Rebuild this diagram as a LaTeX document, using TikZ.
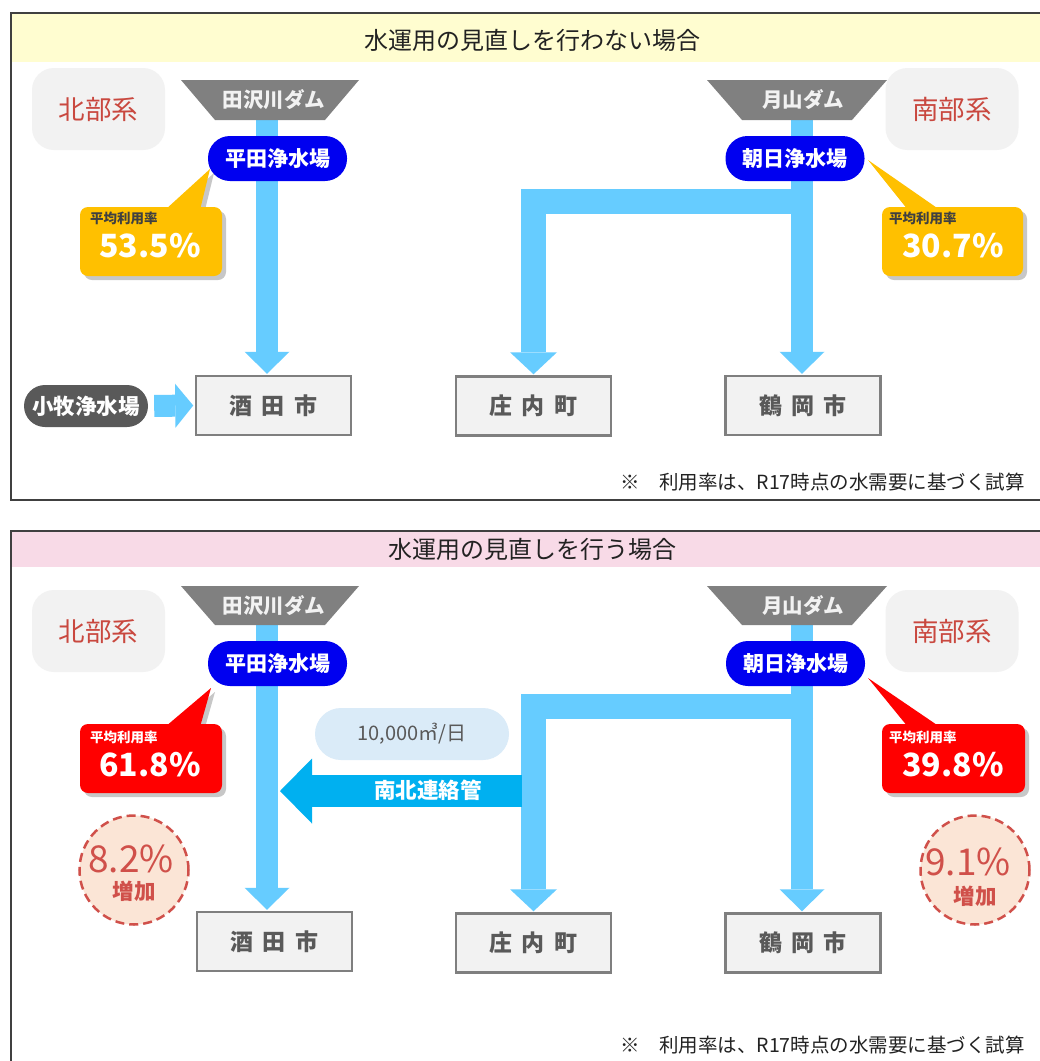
\documentclass[tikz,border=0pt]{standalone}
\usepackage{fontspec}
\setmainfont{Noto Sans CJK JP}
\usetikzlibrary{arrows.meta,calc}
\pgfdeclarelayer{bg}
\pgfsetlayers{bg,main}
\definecolor{pipec}{HTML}{66CCFF}
\definecolor{nsc}{HTML}{00B0F0}
\definecolor{pillc}{HTML}{0000F0}
\definecolor{damc}{HTML}{808080}
\definecolor{yelc}{HTML}{FFC000}
\definecolor{redc}{HTML}{FF0000}
\definecolor{sysfill}{HTML}{F2F2F2}
\definecolor{systext}{HTML}{C9483F}
\definecolor{hdryel}{HTML}{FFFDD0}
\definecolor{hdrpink}{HTML}{F8DAE7}
\definecolor{boxdraw}{HTML}{7F7F7F}
\definecolor{textgray}{HTML}{595959}
\definecolor{avggray}{HTML}{404040}
\definecolor{komac}{HTML}{595959}
\definecolor{circfill}{HTML}{FBE5D6}
\definecolor{circdraw}{HTML}{D0504A}
\definecolor{flowfill}{HTML}{DAEBF8}
\definecolor{framec}{HTML}{404040}
\definecolor{titlec}{HTML}{222222}
\newcommand{\ccsp}{\hspace{0.4em}}
\newcommand{\mycallout}[9]{%
  \fill[black,opacity=0.22,shift={(4,4)},rounded corners=8pt] (#2,#3) rectangle (#4,#5);
  \fill[black,opacity=0.22,shift={(4,4)}] (#6,#3+3) -- (#8,#9) -- (#7,#3+3) -- cycle;
  \fill[#1,rounded corners=8pt] (#2,#3) rectangle (#4,#5);
  \fill[#1] (#6,#3+3) -- (#8,#9) -- (#7,#3+3) -- cycle;
}
\tikzset{
  title/.style={text=titlec, font=\fontsize{24}{26}\selectfont, inner sep=0},
  sysbox/.style={fill=sysfill, rounded corners=22pt, minimum width=133pt, minimum height=82pt, text=systext, font=\fontsize{26.5}{28}\selectfont, inner sep=0},
  pill/.style={fill=pillc, rounded corners=22pt, minimum width=139pt, minimum height=45pt, text=white, font=\bfseries\fontsize{21}{23}\selectfont, inner sep=0},
  damtext/.style={text=white!95!black, font=\bfseries\fontsize{20.5}{22}\selectfont, inner sep=0},
  city/.style={fill=sysfill, draw=boxdraw, line width=2.5pt, minimum width=155pt, minimum height=59pt, text=textgray, font=\bfseries\fontsize{23}{25}\selectfont, inner sep=0},
  koma/.style={fill=komac, rounded corners=21pt, minimum width=124pt, minimum height=42pt, text=white, font=\bfseries\fontsize{21.5}{23}\selectfont, inner sep=0},
  pipe/.style={draw=pipec, line width=22pt},
  pipehead/.style={-{Triangle[width=45pt,length=22pt,line width=0pt]}, shorten >=1pt},
  branch/.style={draw=pipec, line width=25pt, line join=miter, -{Triangle[width=47pt,length=22pt,line width=0pt]}, shorten >=1pt},
  avg/.style={anchor=west, font=\bfseries\fontsize{13.5}{15}\selectfont, inner sep=0},
  val/.style={text=white, font=\bfseries\fontsize{32}{34}\selectfont, inner sep=0},
  flow/.style={fill=flowfill, rounded corners=26pt, minimum width=194pt, minimum height=52pt, text=textgray, font=\fontsize{20}{22}\selectfont, inner sep=0},
  nstext/.style={text=white, font=\bfseries\fontsize{21.5}{23}\selectfont, inner sep=0},
  inc/.style={circle, fill=circfill, draw=circdraw, line width=2.5pt, dash pattern=on 9pt off 5pt, minimum size=109pt, inner sep=0},
  incnum/.style={text=circdraw, font=\fontsize{37}{39}\selectfont, inner sep=0},
  incw/.style={text=circdraw, font=\bfseries\fontsize{21.5}{23}\selectfont, inner sep=0},
  foot/.style={anchor=east, text=titlec, font=\fontsize{19.5}{21}\selectfont, inner sep=0},
}
\begin{document}
\begin{tikzpicture}[x=1pt,y=-1pt]
\useasboundingbox (0,0) rectangle (1040,1061);
\clip (0,0) rectangle (1040,1061);
\begin{pgfonlayer}{bg}
\fill[white] (0,0) rectangle (1040,1061);
\end{pgfonlayer}

% ---------------- top panel ----------------
\fill[hdryel] (11,13) rectangle (1045,62);
\draw[framec, line width=1.5pt] (11,13) rectangle (1045,500);
\node[title] (t1) at (532,40) {水運用の見直しを行わない場合};

\node[sysbox] (n1) at (98.5,109) {北部系};
\node[sysbox] (s1) at (952,109) {南部系};

\fill[damc] (181,80) -- (359,80) -- (325,120) -- (215,120) -- cycle;
\node[damtext] (d1) at (274,100) {田沢川ダム};
\fill[damc] (707,80) -- (887,80) -- (852,120) -- (742,120) -- cycle;
\node[damtext] (g1) at (803,100) {月山ダム};

\node[pill] (h1) at (277.5,158.5) {平田浄水場};
\node[pill] (a1) at (795,158.5) {朝日浄水場};

\node[city] (sk1) at (273.5,405.5) {酒\ccsp 田\ccsp 市};
\node[city] (sh1) at (533.5,406) {庄\ccsp 内\ccsp 町};
\node[city] (tr1) at (803,405.5) {鶴\ccsp 岡\ccsp 市};

\node[koma] (k1) at (86,406) {小牧浄水場};

\mycallout{yelc}{80}{207}{222}{276}{165}{200}{210}{169}
\node[avg, text=avggray] (av1) at (90,218) {平均利用率};
\node[val] (v1) at (150,246) {53.5\%};
\mycallout{yelc}{882}{207}{1023}{276}{908}{940}{868}{160}
\node[avg, text=avggray] (av2) at (889,218) {平均利用率};
\node[val] (v2) at (953,246) {30.7\%};

\node[foot] (f1) at (1025,482) {※\hspace{1em}利用率は、R17時点の水需要に基づく試算};

\begin{pgfonlayer}{bg}
\coordinate (lp1) at (267,120);
\coordinate (rp1) at (802,120);
\coordinate (br1) at (813,201);
\draw[pipe,pipehead] (lp1) -- (lp1 |- sk1.north);
\draw[pipe,pipehead] (rp1) -- (rp1 |- tr1.north);
\draw[branch] (br1) -| (sh1.north);
\end{pgfonlayer}
\draw[pipe, -{Triangle[width=44pt,length=18pt,line width=0pt]}, shorten <=6pt, shorten >=1.5pt] (k1.east) -- (sk1.west);

% ---------------- bottom panel ----------------
\fill[hdrpink] (11,531) rectangle (1045,567);
\draw[framec, line width=1.5pt] (11,531) rectangle (1045,1075);
\node[title] (t2) at (532,549) {水運用の見直しを行う場合};

\node[sysbox] (n2) at (98.5,631) {北部系};
\node[sysbox] (s2) at (952,631) {南部系};

\fill[damc] (181,586) -- (359,586) -- (325,625) -- (215,625) -- cycle;
\node[damtext] (d2) at (274,605.5) {田沢川ダム};
\fill[damc] (707,586) -- (887,586) -- (852,625) -- (742,625) -- cycle;
\node[damtext] (g2) at (803,605.5) {月山ダム};

\node[pill] (h2) at (277.5,663.5) {平田浄水場};
\node[pill] (a2) at (795.5,663.5) {朝日浄水場};

\node[city] (sk2) at (274.5,941.5) {酒\ccsp 田\ccsp 市};
\node[city] (sh2) at (533.5,943) {庄\ccsp 内\ccsp 町};
\node[city] (tr2) at (803,943) {鶴\ccsp 岡\ccsp 市};

\mycallout{redc}{80}{724}{222}{793}{165}{200}{211}{688}
\node[avg, text=white] (av3) at (90,737) {平均利用率};
\node[val] (v3) at (150,765) {61.8\%};
\mycallout{redc}{882}{724}{1025}{793}{908}{940}{868}{678}
\node[avg, text=white] (av4) at (889,737) {平均利用率};
\node[val] (v4) at (953,765) {39.8\%};

\node[flow] (fl) at (412,734) {10,000㎥/日};

\coordinate (ns1) at (522,791);
\coordinate (ns2) at (280,791);
\draw[nsc, line width=32pt, -{Triangle[width=65pt,length=32pt,line width=0pt]}] (ns1) -- (ns2);
\node[nstext] (nst) at (428,790) {南北連絡管};

\node[inc] (c1) at (134,870) {};
\node[incnum] (c1n) at (131,859) {8.2\%};
\node[incw] (c1w) at (134,891) {増加};
\node[inc] (c2) at (975,870) {};
\node[incnum] (c2n) at (968,862) {9.1\%};
\node[incw] (c2w) at (975,896) {増加};

\node[foot] (f2) at (1025,1045) {※\hspace{1em}利用率は、R17時点の水需要に基づく試算};

\begin{pgfonlayer}{bg}
\coordinate (lp2) at (267,625);
\coordinate (rp2) at (802,625);
\coordinate (br2) at (813,706);
\draw[pipe,pipehead] (lp2) -- (lp2 |- sk2.north);
\draw[pipe,pipehead] (rp2) -- (rp2 |- tr2.north);
\draw[branch] (br2) -| (sh2.north);
\end{pgfonlayer}
\end{tikzpicture}
\end{document}
